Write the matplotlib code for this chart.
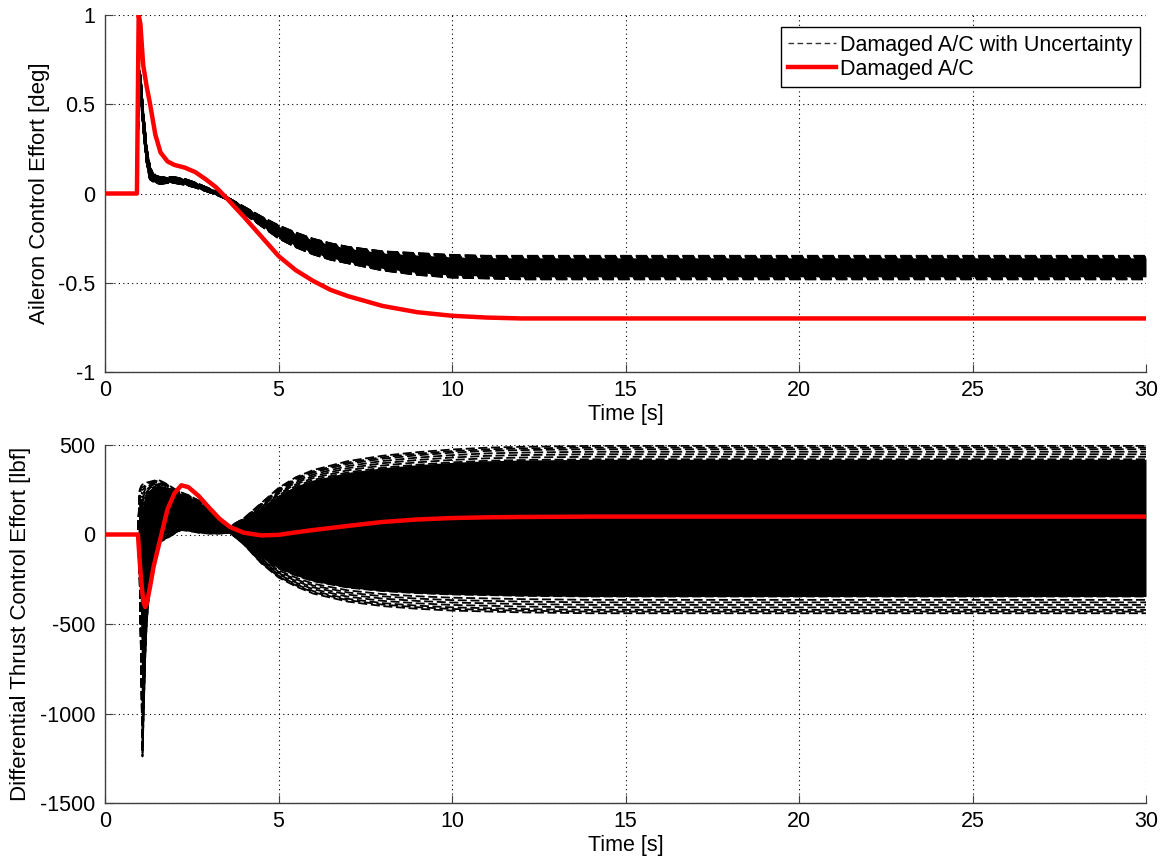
import numpy as np
import matplotlib
matplotlib.use("Agg")
import matplotlib.pyplot as plt
from matplotlib.lines import Line2D

plt.rcParams['font.family'] = ['Liberation Sans', 'DejaVu Sans']

# ---------------- data ----------------
t_top = [0, 0.92, 0.97, 1.02, 1.1, 1.2, 1.3, 1.45, 1.6, 1.8, 2.0, 2.3, 2.6, 2.9, 3.2, 3.5,
         4.0, 4.5, 5.0, 5.5, 6.0, 6.5, 7.0, 8.0, 9.0, 10.0, 11.0, 12.0, 14.0, 17.0, 20.0, 25.0, 30.0]
aileron_nominal = [0, 0, 1.0, 0.95, 0.72, 0.60, 0.50, 0.33, 0.23, 0.18, 0.16, 0.145, 0.12, 0.08, 0.035, -0.025,
                   -0.13, -0.24, -0.35, -0.43, -0.49, -0.54, -0.575, -0.63, -0.665, -0.685, -0.695, -0.70,
                   -0.70, -0.70, -0.70, -0.70, -0.70]
aileron_unc_hi = [0, 0, 0.70, 0.66, 0.45, 0.25, 0.14, 0.10, 0.09, 0.09, 0.09, 0.08, 0.06, 0.035, 0.01, -0.02,
                  -0.075, -0.13, -0.18, -0.22, -0.255, -0.28, -0.30, -0.325, -0.335, -0.345, -0.35, -0.35,
                  -0.35, -0.35, -0.35, -0.35, -0.35]
aileron_unc_lo = [0, 0, 0.62, 0.58, 0.38, 0.18, 0.08, 0.06, 0.055, 0.06, 0.06, 0.05, 0.035, 0.015, -0.005, -0.03,
                  -0.11, -0.18, -0.25, -0.30, -0.34, -0.37, -0.39, -0.43, -0.455, -0.47, -0.475, -0.48,
                  -0.48, -0.48, -0.48, -0.48, -0.48]

t_bot = [0, 0.95, 1.0, 1.04, 1.08, 1.12, 1.16, 1.2, 1.3, 1.4, 1.5, 1.6, 1.8, 2.0, 2.2, 2.4, 2.7, 3.0, 3.3, 3.6,
         4.0, 4.5, 5.0, 5.5, 6.0, 7.0, 8.0, 9.0, 10.0, 11.0, 12.0, 14.0, 17.0, 20.0, 25.0, 30.0]
thrust_nominal = [0, 0, -150, -250, -330, -385, -405, -390, -290, -180, -100, -20, 140, 230, 275, 265, 215, 150,
                  88, 42, 10, -5, -2, 12, 25, 48, 70, 84, 92, 96, 98, 100, 100, 100, 100, 100]
thrust_unc_hi = [0, 0, 250, 270, 280, 280, 285, 290, 295, 300, 305, 300, 280, 255, 235, 220, 190, 140, 85, 45,
                 90, 175, 260, 320, 360, 410, 440, 460, 475, 485, 490, 495, 495, 495, 495, 495]
thrust_unc_lo = [0, 0, -250, -700, -1240, -950, -680, -500, -250, -130, -70, -40, -20, 5, 25, 20, 10, 5, 5, 10,
                 -55, -160, -240, -290, -330, -375, -400, -415, -425, -430, -435, -440, -440, -440, -440, -440]

# relative position of each uncertainty run inside the envelope
run_fractions = [0.0, 0.01, 0.02, 0.035, 0.05, 0.065, 0.08, 0.10, 0.12, 0.15, 0.19, 0.23, 0.27, 0.31,
                 0.35, 0.39, 0.43, 0.47, 0.51, 0.55, 0.59, 0.63, 0.67, 0.71, 0.75, 0.79, 0.82, 0.85,
                 0.88, 0.90, 0.92, 0.935, 0.95, 0.965, 0.98, 0.99, 1.0]
# runs dense enough to look solid
solid_from, solid_to = 0.10, 0.92

x_ticks = [0, 5, 10, 15, 20, 25, 30]

# ---------------- figure ----------------
fig = plt.figure(figsize=(11.7, 8.65), dpi=100)
ax1 = fig.add_axes([105 / 1170, 1 - 372 / 865, 1041 / 1170, 357 / 865])
ax2 = fig.add_axes([105 / 1170, 1 - 803 / 865, 1041 / 1170, 358 / 865])

FS = 15.5
spine_col = '#404040'


def style(ax):
    ax.grid(True, color='black', linestyle=(0, (1, 3)), linewidth=0.8)
    ax.set_axisbelow(True)
    for s in ['top', 'right']:
        ax.spines[s].set_visible(False)
    for s in ['left', 'bottom']:
        ax.spines[s].set_color(spine_col)
        ax.spines[s].set_linewidth(1.0)
    ax.tick_params(direction='in', length=6, color=spine_col, labelsize=FS)
    ax.tick_params(axis='x', pad=6)
    ax.tick_params(axis='y', pad=7)
    ax.set_xlim(0, 30)
    ax.set_xticks(x_ticks)
    ax.set_xlabel('Time [s]', fontsize=FS, labelpad=2)


def draw(ax, t, lo, hi, nom, lw):
    lo = np.asarray(lo, float)
    hi = np.asarray(hi, float)
    ax.fill_between(t, lo + solid_from * (hi - lo), lo + solid_to * (hi - lo),
                    color='black', linewidth=0, zorder=2)
    for f in run_fractions:
        y = lo + f * (hi - lo)
        ax.plot(t, y, color='black', linestyle=(0, (5, 2)), linewidth=lw, zorder=2)
    ax.plot(t, nom, color='#ff0000', linewidth=3.2, zorder=3)


draw(ax1, t_top, aileron_unc_lo, aileron_unc_hi, aileron_nominal, 1.6)
style(ax1)
ax1.set_ylim(-1, 1)
ax1.set_yticks([-1, -0.5, 0, 0.5, 1])
ax1.set_yticklabels(['-1', '-0.5', '0', '0.5', '1'])
ax1.set_ylabel('Aileron Control Effort [deg]', fontsize=16, labelpad=6)

lh = Line2D([], [], color='#333333', linestyle=(0, (4, 2.5)), linewidth=1.0)
lr = Line2D([], [], color='#ff0000', linewidth=3.2)
leg = ax1.legend([lh, lr], ['Damaged A/C with Uncertainty', 'Damaged A/C'], loc='upper right',
                 bbox_to_anchor=(1.0 - 6 / 1041, 1.0 - 12 / 357), fontsize=FS, frameon=True,
                 fancybox=False, edgecolor='black', framealpha=1, borderpad=0.35, handlelength=2.2,
                 handletextpad=0.2, labelspacing=0.15, borderaxespad=0)
leg.get_frame().set_linewidth(1.0)

draw(ax2, t_bot, thrust_unc_lo, thrust_unc_hi, thrust_nominal, 1.3)
style(ax2)
ax2.set_ylim(-1500, 500)
ax2.set_yticks([-1500, -1000, -500, 0, 500])
ax2.set_yticklabels(['-1500', '-1000', '-500', '0', '500'])
ax2.set_ylabel('Differential Thrust Control Effort [lbf]', fontsize=16, labelpad=6)

fig.savefig('out.png', dpi=100)
